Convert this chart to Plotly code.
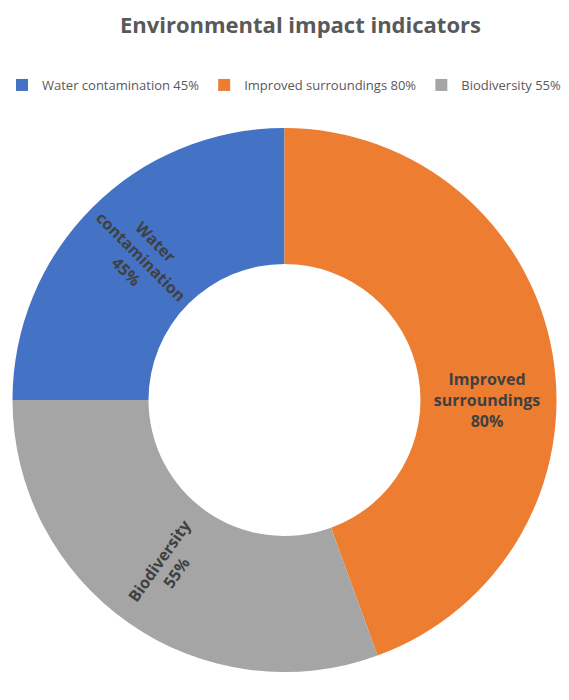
import plotly.graph_objects as go

categories = ["Water contamination", "Improved surroundings", "Biodiversity"]
values = [45, 80, 55]
colors = ["#4472C4", "#ED7D31", "#A5A5A5"]

legend_labels = [f"{c} {v}%" for c, v in zip(categories, values)]
slice_text = [c.replace(" ", "<br>") + f"<br>{v}%" for c, v in zip(categories, values)]

fig = go.Figure(go.Pie(
    labels=legend_labels,
    values=values,
    text=slice_text,
    textinfo="text",
    hoverinfo="label+value",
    sort=False,
    direction="clockwise",
    rotation=-90,
    hole=0.5,
    marker=dict(colors=colors, line=dict(width=0)),
    insidetextorientation="radial",
    textposition="inside",
    textfont=dict(family="Open Sans", size=16, color="#404040", weight="bold"),
    domain=dict(x=[0, 1], y=[28/700, 572/700]),
))

fig.update_layout(
    width=569, height=700,
    margin=dict(l=0, r=0, t=0, b=0),
    paper_bgcolor="white",
    title=dict(text="<b>Environmental impact indicators</b>", x=0.528, xanchor="center",
               y=1 - 25/700, yanchor="middle",
               font=dict(family="Open Sans", size=22, color="#595959")),
    legend=dict(orientation="h", x=0.5, xanchor="center", y=1 - 70/700, yanchor="top",
                font=dict(family="Open Sans", size=13, color="#595959"),
                itemwidth=30, traceorder="normal"),
    uniformtext=dict(minsize=15, mode="show"),
)

fig.write_html("out.html")
